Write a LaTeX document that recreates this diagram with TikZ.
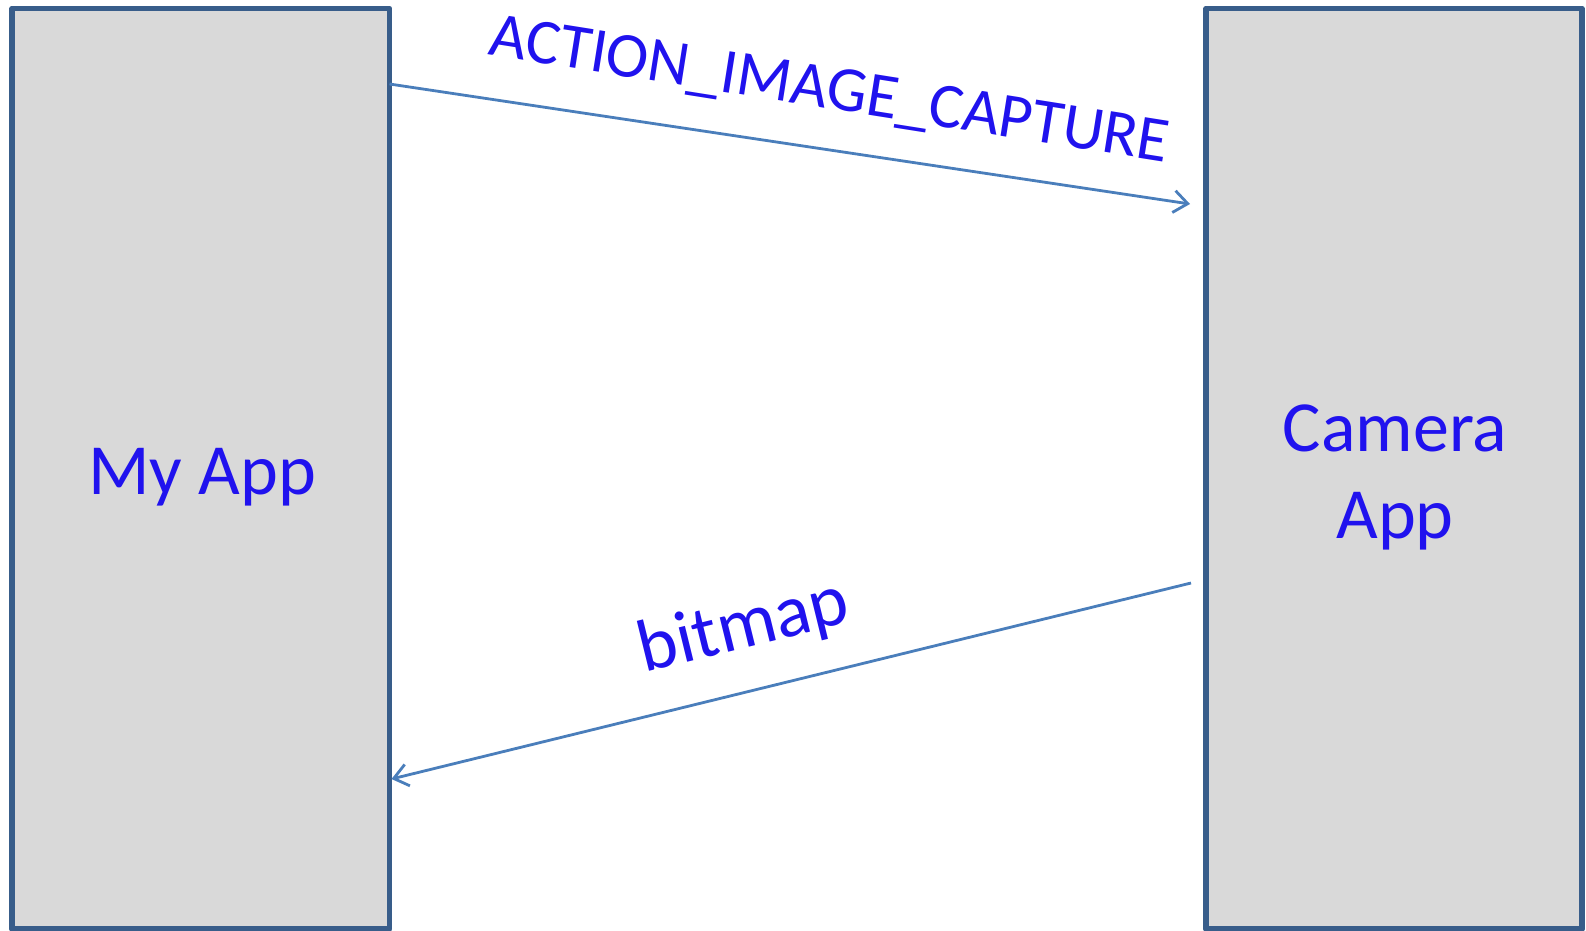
\documentclass[tikz,border=0pt]{standalone}
\usepackage{fontspec}
\setmainfont{Carlito}
\usetikzlibrary{arrows.meta}
\definecolor{labelblue}{RGB}{32,18,238}
\definecolor{boxfill}{RGB}{217,217,217}
\definecolor{boxline}{RGB}{56,93,138}
\definecolor{linkblue}{RGB}{74,126,187}

\begin{document}
\begin{tikzpicture}[x=1bp,y=-1bp,
  appbox/.style={draw=boxline, fill=boxfill, line width=5.5bp, line join=round,
    outer sep=0pt, inner sep=0pt, anchor=north west},
  msg/.style={draw=linkblue, line width=2.8bp,
    -{Straight Barb[length=14bp,width=22bp]}},
  lbl/.style={text=labelblue, inner sep=0pt,
    font=\fontsize{72bp}{87bp}\selectfont},
  msglbl/.style={text=labelblue, inner sep=0pt,
    font=\fontsize{64bp}{78bp}\selectfont}]
\useasboundingbox (0,0) rectangle (1586,930);

% the two applications
\node[appbox, minimum width=377.5bp, minimum height=920.5bp] (myapp) at (12,8.5) {};
\node[appbox, minimum width=376bp, minimum height=920.5bp] (camapp) at (1206,8.5) {};

\node[lbl, anchor=base] (mylbl) at (202,494) {My App};
% base anchor sits on the last line of a multi-line node
\node[lbl, anchor=base, align=center] (camlbl) at (1395,538) {Camera\\App};

% request and reply
\coordinate (reqStart) at (myapp.east |- 0,84);
\coordinate (reqEnd) at ([xshift=-16bp]camapp.west |- 0,204);
\coordinate (repStart) at ([xshift=-15bp]camapp.west |- 0,583);
\coordinate (repEnd) at ([xshift=2bp]myapp.east |- 0,779);

\draw[msg] (reqStart) -- (reqEnd);
\draw[msg] (repStart) -- (repEnd);

\node[msglbl, rotate=-9] (reqlbl) at (829,92) {ACTION\_IMAGE\_CAPTURE};
\node[lbl, font=\fontsize{74bp}{88bp}\selectfont, rotate=13.8] (replbl) at (744,628) {bitmap};
\end{tikzpicture}
\end{document}
